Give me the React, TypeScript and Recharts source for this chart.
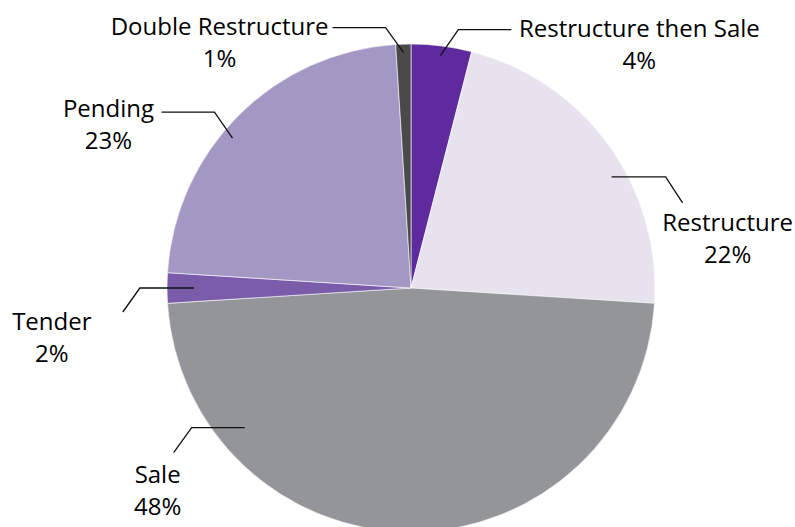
import { PieChart, Pie, Cell } from 'recharts';

const categories = ['Restructure then Sale', 'Restructure', 'Sale', 'Tender', 'Pending', 'Double Restructure'];
const shares = [4, 22, 48, 2, 23, 1];
const colors = ['#5E2A9E', '#E6E3EF', '#939598', '#7B5CAB', '#A397C3', '#4A4A4A'];

// leader-line layout per slice: anchor radius fraction + angle nudge, then path and text offsets
const labelLayout = [
  { r: 0.96, nudge: 0, path: [[18, -26], [53, 0]], text: [128, 7] },
  { r: 0.94, nudge: -7, path: [[54, 0], [17, 26]], text: [45, 28] },
  { r: 0.89, nudge: -50, path: [[-53, 0], [-18, 25]], text: [-16, 30] },
  { r: 0.89, nudge: 0, path: [[-54, 0], [-17, 24]], text: [-71, 18] },
  { r: 0.955, nudge: 5, path: [[-18, -26], [-53, 0]], text: [-53, 5] },
  { r: 0.965, nudge: 0, path: [[-18, -25], [-53, 0]], text: [-113, 7] },
];

const data = categories.map((name, i) => ({ name, value: shares[i] }));

const RAD = Math.PI / 180;

const renderLabel = (props: any) => {
  const { cx, cy, midAngle, outerRadius, index, name, value } = props;
  const lay = labelLayout[index];
  const ang = (midAngle + lay.nudge) * RAD;
  const r = outerRadius * lay.r;
  let x = cx + Math.cos(-ang) * r;
  let y = cy + Math.sin(-ang) * r;
  const pts = [[x, y]];
  lay.path.forEach(([dx, dy]) => {
    x += dx;
    y += dy;
    pts.push([x, y]);
  });
  const tx = x + lay.text[0];
  const ty = y + lay.text[1];
  return (
    <g key={`lbl-${index}`}>
      <polyline points={pts.map((p) => p.join(',')).join(' ')} fill="none" stroke="#111" strokeWidth={1.3} />
      <text x={tx} y={ty} textAnchor="middle" fill="#000" fontSize={24} fontFamily="'Open Sans', sans-serif">
        {name}
      </text>
      <text x={tx} y={ty + 32} textAnchor="middle" fill="#000" fontSize={24} fontFamily="'Open Sans', sans-serif">
        {value}%
      </text>
    </g>
  );
};

export default function App() {
  return (
    <div style={{ position: 'absolute', left: 0, top: 0, background: '#fff' }}>
      <PieChart width={795} height={527} margin={{ top: 0, right: 0, bottom: 0, left: 0 }}>
        <Pie
          data={data}
          dataKey="value"
          nameKey="name"
          cx={411}
          cy={288}
          outerRadius={244}
          startAngle={90}
          endAngle={-270}
          stroke="#fff"
          strokeWidth={0.6}
          label={renderLabel}
          labelLine={false}
          isAnimationActive={false}
        >
          {data.map((d, i) => (
            <Cell key={d.name} fill={colors[i]} />
          ))}
        </Pie>
      </PieChart>
    </div>
  );
}
